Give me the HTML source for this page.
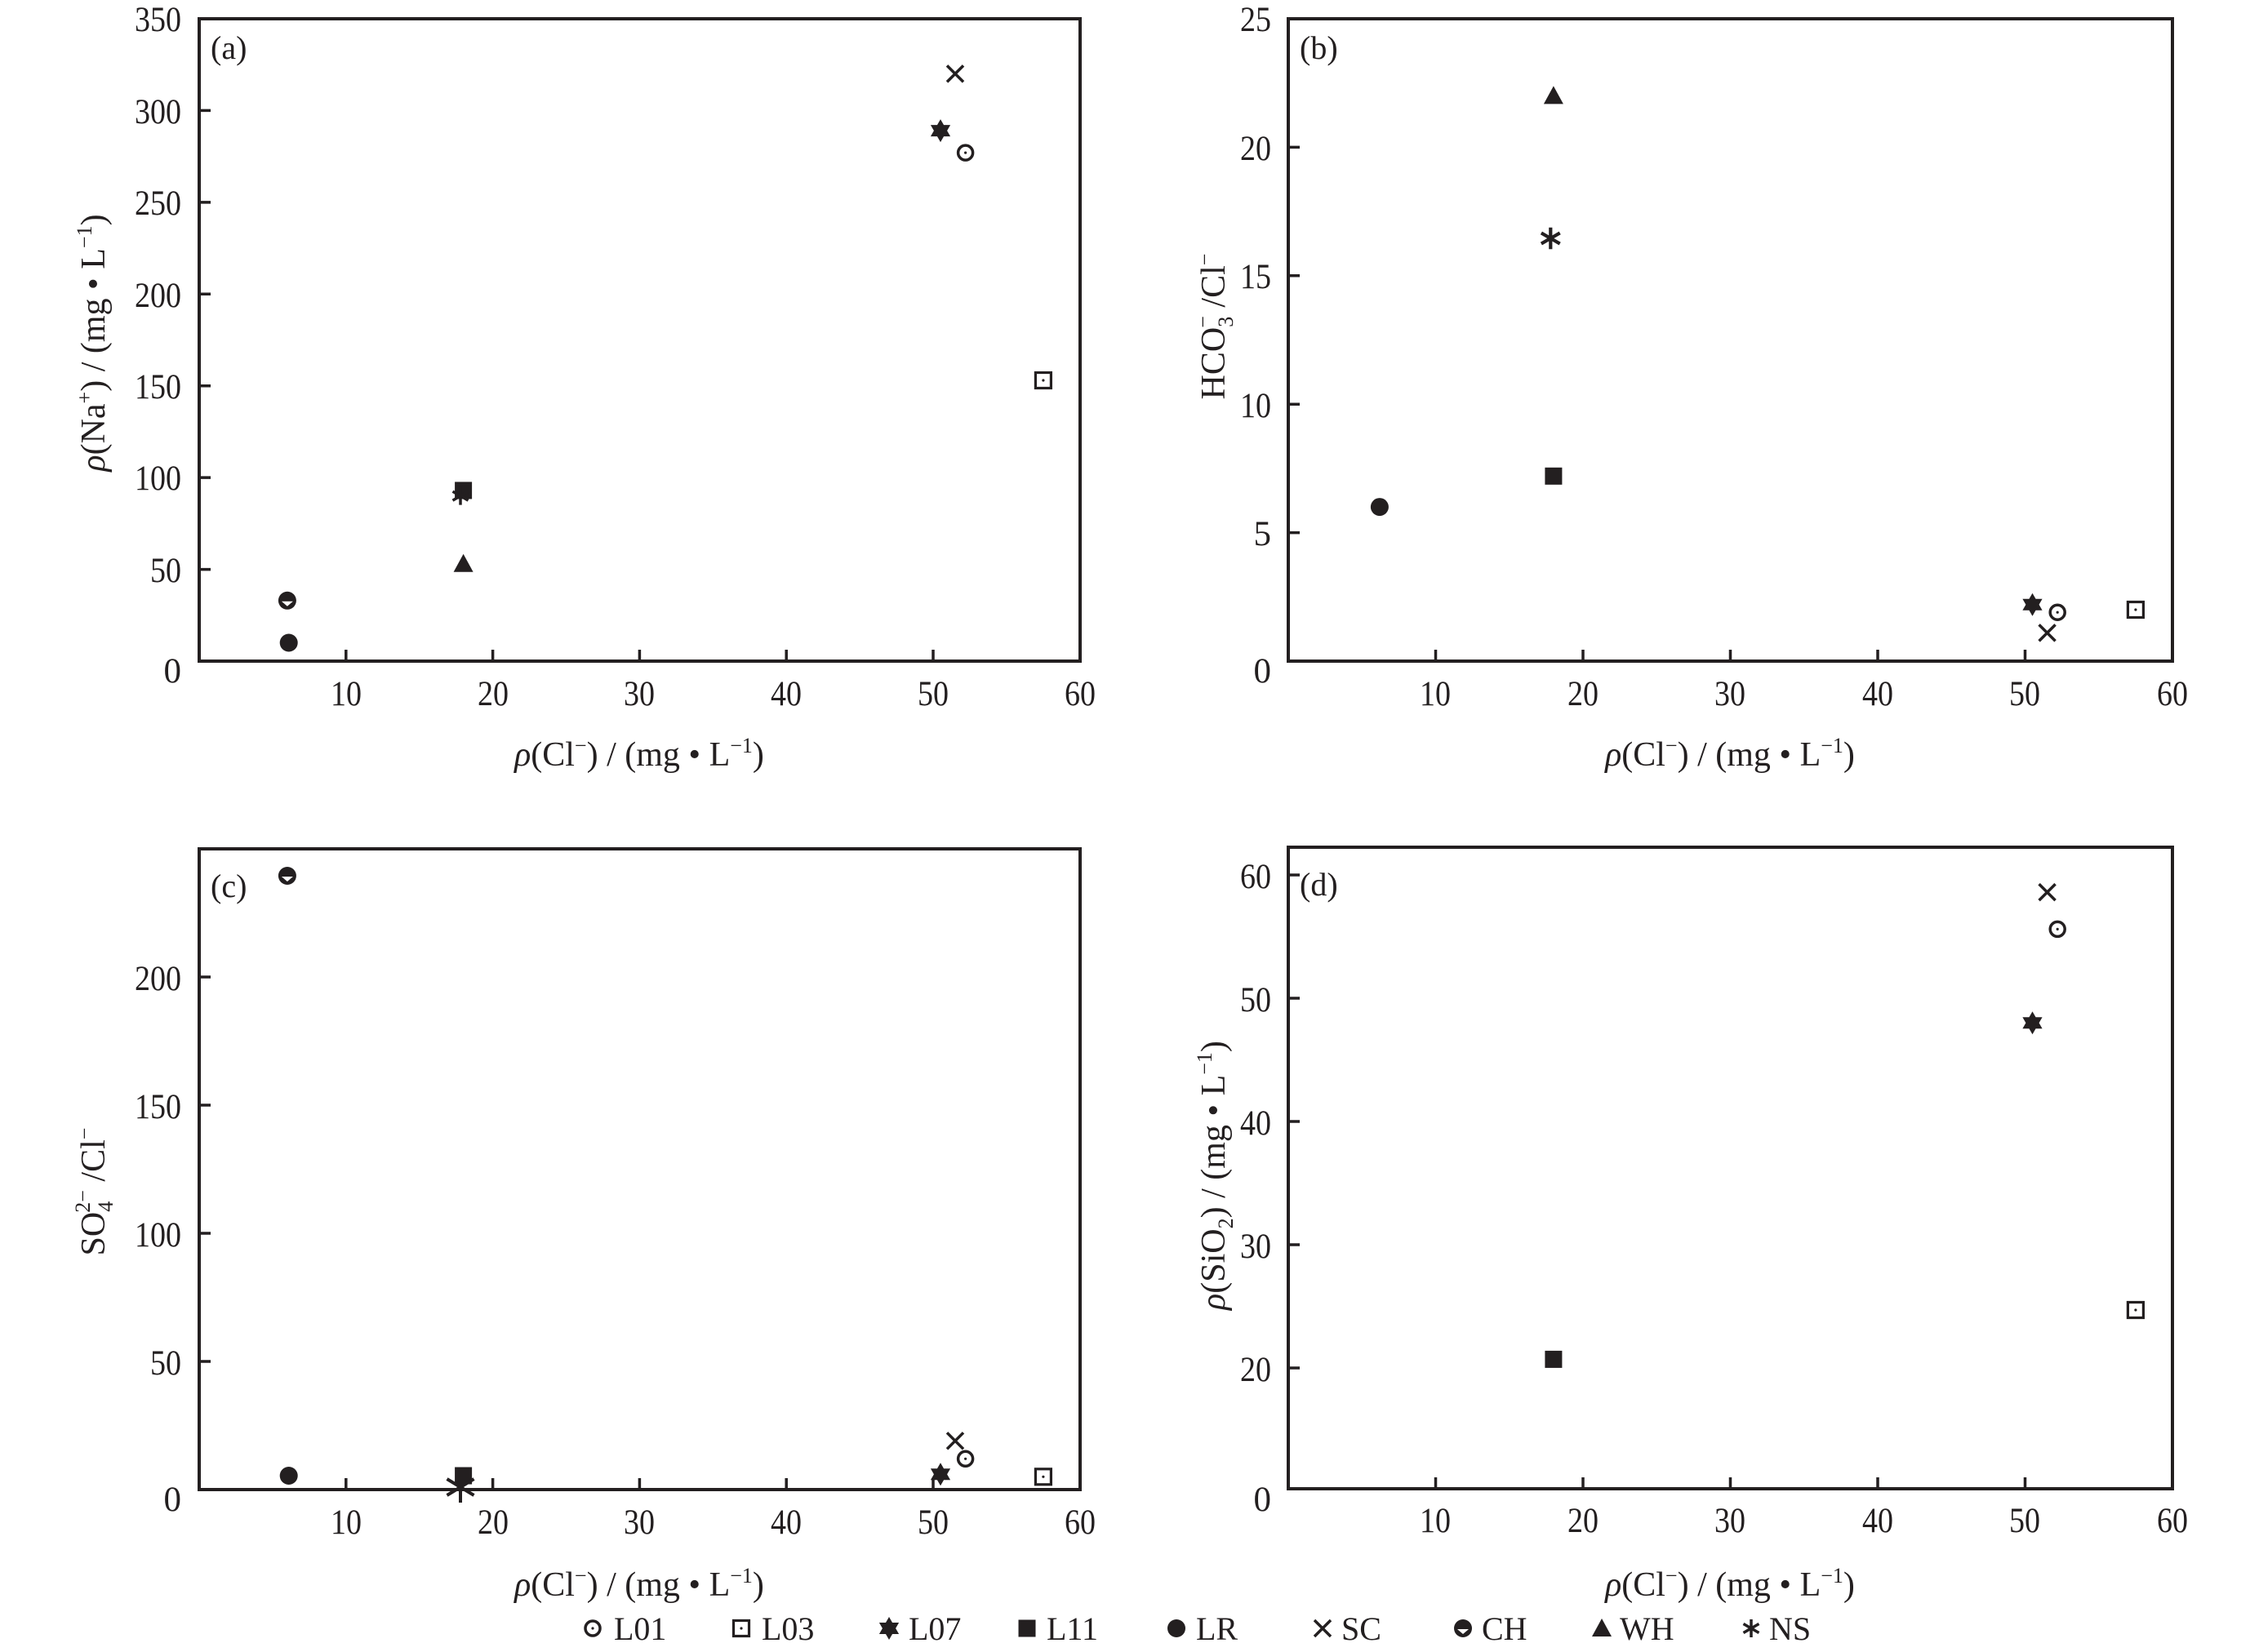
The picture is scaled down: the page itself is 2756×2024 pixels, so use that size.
<!DOCTYPE html>
<html><head><meta charset="utf-8"><style>
html,body{margin:0;padding:0;background:#fff}
svg{display:block}
text{font-family:"Liberation Serif","Noto Serif CJK SC",serif;fill:#231f20}
</style></head><body>
<svg width="2756" height="2024" viewBox="0 0 2756 2024" xmlns="http://www.w3.org/2000/svg">
<defs>
<g id="mo"><circle r="9" fill="none" stroke="#231f20" stroke-width="3.5"/><circle r="1.6" fill="#231f20"/></g>
<g id="msq"><rect x="-9.5" y="-9.5" width="19" height="19" fill="none" stroke="#231f20" stroke-width="3.2"/><circle r="1.6" fill="#231f20"/></g>
<g id="mstar"><polygon points="0,-14 4.04,-7 12.1,-7 8.08,0 12.1,7 4.04,7 0,14 -4.04,7 -12.1,7 -8.08,0 -12.1,-7 -4.04,-7" fill="#231f20"/></g>
<g id="mfsq"><rect x="-10.5" y="-10.5" width="21" height="21" fill="#231f20"/></g>
<g id="mdot"><circle r="11" fill="#231f20"/></g>
<g id="mx"><path d="M-10,-10L10,10M10,-10L-10,10" stroke="#231f20" stroke-width="3.5"/></g>
<g id="mch"><circle r="11" fill="#231f20"/><polygon points="-7,1 7,1 0,7" fill="#fff"/></g>
<g id="mtri"><polygon points="0,-12 12,10 -12,10" fill="#231f20"/></g>
<g id="mns"><path d="M0,-11V11M-9.5,-5.5L9.5,5.5M9.5,-5.5L-9.5,5.5" stroke="#231f20" stroke-width="3.5"/></g>
</defs>

<g stroke="#231f20" stroke-width="4" fill="none">
<rect x="244" y="23" width="1079" height="787"/>
<rect x="1578" y="23" width="1083" height="787"/>
<rect x="244" y="1040" width="1079" height="785"/>
<rect x="1578" y="1038" width="1083" height="786"/>
</g>
<g stroke="#231f20" stroke-width="3.5">
<path d="M423.8,810v-14M603.6,810v-14M783.4,810v-14M963.2,810v-14M1143,810v-14"/>
<path d="M244,697.6h14M244,585.1h14M244,472.7h14M244,360.3h14M244,247.9h14M244,135.4h14"/>
<path d="M1758.5,810v-14M1939,810v-14M2119.5,810v-14M2300,810v-14M2480.5,810v-14"/>
<path d="M1578,652.6h14M1578,495.2h14M1578,337.8h14M1578,180.4h14"/>
<path d="M423.8,1825v-14M603.6,1825v-14M783.4,1825v-14M963.2,1825v-14M1143,1825v-14"/>
<path d="M244,1668h14M244,1511h14M244,1354h14M244,1197h14"/>
<path d="M1758.5,1824v-14M1939,1824v-14M2119.5,1824v-14M2300,1824v-14M2480.5,1824v-14"/>
<path d="M1578,1072h14M1578,1223h14M1578,1374h14M1578,1525h14M1578,1676h14"/>
</g>

<g font-size="43">
<g text-anchor="middle">
<text x="424" y="864" textLength="38" lengthAdjust="spacingAndGlyphs">10</text>
<text x="604" y="864" textLength="38" lengthAdjust="spacingAndGlyphs">20</text>
<text x="783" y="864" textLength="38" lengthAdjust="spacingAndGlyphs">30</text>
<text x="963" y="864" textLength="38" lengthAdjust="spacingAndGlyphs">40</text>
<text x="1143" y="864" textLength="38" lengthAdjust="spacingAndGlyphs">50</text>
<text x="1323" y="864" textLength="38" lengthAdjust="spacingAndGlyphs">60</text>
</g>
<g text-anchor="end">
<text x="222" y="836">0</text>
<text x="222" y="713" textLength="38" lengthAdjust="spacingAndGlyphs">50</text>
<text x="222" y="600" textLength="57" lengthAdjust="spacingAndGlyphs">100</text>
<text x="222" y="488" textLength="57" lengthAdjust="spacingAndGlyphs">150</text>
<text x="222" y="376" textLength="57" lengthAdjust="spacingAndGlyphs">200</text>
<text x="222" y="263" textLength="57" lengthAdjust="spacingAndGlyphs">250</text>
<text x="222" y="151" textLength="57" lengthAdjust="spacingAndGlyphs">300</text>
<text x="222" y="38" textLength="57" lengthAdjust="spacingAndGlyphs">350</text>
</g>
<g text-anchor="middle">
<text x="1758" y="864" textLength="38" lengthAdjust="spacingAndGlyphs">10</text>
<text x="1939" y="864" textLength="38" lengthAdjust="spacingAndGlyphs">20</text>
<text x="2119" y="864" textLength="38" lengthAdjust="spacingAndGlyphs">30</text>
<text x="2300" y="864" textLength="38" lengthAdjust="spacingAndGlyphs">40</text>
<text x="2480" y="864" textLength="38" lengthAdjust="spacingAndGlyphs">50</text>
<text x="2661" y="864" textLength="38" lengthAdjust="spacingAndGlyphs">60</text>
</g>
<g text-anchor="end">
<text x="1557" y="836">0</text>
<text x="1557" y="668">5</text>
<text x="1557" y="511" textLength="38" lengthAdjust="spacingAndGlyphs">10</text>
<text x="1557" y="353" textLength="38" lengthAdjust="spacingAndGlyphs">15</text>
<text x="1557" y="196" textLength="38" lengthAdjust="spacingAndGlyphs">20</text>
<text x="1557" y="38" textLength="38" lengthAdjust="spacingAndGlyphs">25</text>
</g>
<g text-anchor="middle">
<text x="424" y="1879" textLength="38" lengthAdjust="spacingAndGlyphs">10</text>
<text x="604" y="1879" textLength="38" lengthAdjust="spacingAndGlyphs">20</text>
<text x="783" y="1879" textLength="38" lengthAdjust="spacingAndGlyphs">30</text>
<text x="963" y="1879" textLength="38" lengthAdjust="spacingAndGlyphs">40</text>
<text x="1143" y="1879" textLength="38" lengthAdjust="spacingAndGlyphs">50</text>
<text x="1323" y="1879" textLength="38" lengthAdjust="spacingAndGlyphs">60</text>
</g>
<g text-anchor="end">
<text x="222" y="1851">0</text>
<text x="222" y="1684" textLength="38" lengthAdjust="spacingAndGlyphs">50</text>
<text x="222" y="1527" textLength="57" lengthAdjust="spacingAndGlyphs">100</text>
<text x="222" y="1370" textLength="57" lengthAdjust="spacingAndGlyphs">150</text>
<text x="222" y="1213" textLength="57" lengthAdjust="spacingAndGlyphs">200</text>
</g>
<g text-anchor="middle">
<text x="1758" y="1877" textLength="38" lengthAdjust="spacingAndGlyphs">10</text>
<text x="1939" y="1877" textLength="38" lengthAdjust="spacingAndGlyphs">20</text>
<text x="2119" y="1877" textLength="38" lengthAdjust="spacingAndGlyphs">30</text>
<text x="2300" y="1877" textLength="38" lengthAdjust="spacingAndGlyphs">40</text>
<text x="2480" y="1877" textLength="38" lengthAdjust="spacingAndGlyphs">50</text>
<text x="2661" y="1877" textLength="38" lengthAdjust="spacingAndGlyphs">60</text>
</g>
<g text-anchor="end">
<text x="1557" y="1851">0</text>
<text x="1557" y="1692" textLength="38" lengthAdjust="spacingAndGlyphs">20</text>
<text x="1557" y="1541" textLength="38" lengthAdjust="spacingAndGlyphs">30</text>
<text x="1557" y="1390" textLength="38" lengthAdjust="spacingAndGlyphs">40</text>
<text x="1557" y="1239" textLength="38" lengthAdjust="spacingAndGlyphs">50</text>
<text x="1557" y="1088" textLength="38" lengthAdjust="spacingAndGlyphs">60</text>
</g>
</g>

<g font-size="40">
<text x="258" y="72">(a)</text>
<text x="1592" y="72">(b)</text>
<text x="258" y="1099">(c)</text>
<text x="1592" y="1097">(d)</text>
</g>

<g font-size="42" text-anchor="middle">
<text x="783" y="938"><tspan font-style="italic">ρ</tspan>(Cl<tspan font-size="26" dy="-16">−</tspan><tspan dy="16">) / (mg • L</tspan><tspan font-size="26" dy="-16">−1</tspan><tspan dy="16">)</tspan></text>
<text x="2119" y="938"><tspan font-style="italic">ρ</tspan>(Cl<tspan font-size="26" dy="-16">−</tspan><tspan dy="16">) / (mg • L</tspan><tspan font-size="26" dy="-16">−1</tspan><tspan dy="16">)</tspan></text>
<text x="783" y="1955"><tspan font-style="italic">ρ</tspan>(Cl<tspan font-size="26" dy="-16">−</tspan><tspan dy="16">) / (mg • L</tspan><tspan font-size="26" dy="-16">−1</tspan><tspan dy="16">)</tspan></text>
<text x="2119" y="1955"><tspan font-style="italic">ρ</tspan>(Cl<tspan font-size="26" dy="-16">−</tspan><tspan dy="16">) / (mg • L</tspan><tspan font-size="26" dy="-16">−1</tspan><tspan dy="16">)</tspan></text>
<text transform="translate(128,420) rotate(-90)"><tspan font-style="italic">ρ</tspan>(Na<tspan font-size="26" dy="-16">+</tspan><tspan dy="16">) / (mg • L</tspan><tspan font-size="26" dy="-16">−1</tspan><tspan dy="16">)</tspan></text>
<text transform="translate(1500,400) rotate(-90)">HCO<tspan font-size="26" dy="10">3</tspan><tspan font-size="26" dx="-14" dy="-28">−</tspan><tspan dy="18"> /Cl</tspan><tspan font-size="26" dy="-16">−</tspan></text>
<text transform="translate(128,1460) rotate(-90)">SO<tspan font-size="26" dy="10">4</tspan><tspan font-size="26" dx="-14" dy="-28">2−</tspan><tspan dy="18"> /Cl</tspan><tspan font-size="26" dy="-16">−</tspan></text>
<text transform="translate(1500,1440) rotate(-90)"><tspan font-style="italic">ρ</tspan>(SiO<tspan font-size="26" dy="10">2</tspan><tspan dy="-10">) / (mg • L</tspan><tspan font-size="26" dy="-16">−1</tspan><tspan dy="16">)</tspan></text>
</g>

<!-- (a) -->
<use href="#mch" x="351.9" y="735.8"/>
<use href="#mdot" x="353.7" y="787.5"/>
<use href="#mfsq" x="567.6" y="600.9"/>
<use href="#mns" x="564" y="607.6"/>
<use href="#mtri" x="567.6" y="690.8"/>
<use href="#mstar" x="1152" y="160.1"/>
<use href="#mx" x="1170" y="90.4"/>
<use href="#mo" x="1182.6" y="187.1"/>
<use href="#msq" x="1277.9" y="466"/>
<!-- (b) -->
<use href="#mdot" x="1689.9" y="621.1"/>
<use href="#mfsq" x="1902.9" y="583.3"/>
<use href="#mns" x="1899.3" y="292" transform="translate(1899.3,292) scale(1.2) translate(-1899.3,-292)"/>
<use href="#mtri" x="1902.9" y="117.4"/>
<use href="#mstar" x="2489.5" y="740.7"/>
<use href="#mx" x="2507.6" y="775.4"/>
<use href="#mo" x="2520.2" y="750.2"/>
<use href="#msq" x="2615.9" y="747"/>
<!-- (c) -->
<use href="#mch" x="351.9" y="1073"/>
<use href="#mdot" x="353.7" y="1808"/>
<use href="#mfsq" x="567.6" y="1808"/>
<path d="M564,1803V1841M547.5,1812L580.5,1832M580.5,1812L547.5,1832" stroke="#231f20" stroke-width="4"/>
<use href="#mstar" x="1152" y="1806.2"/>
<use href="#mx" x="1170" y="1765.3"/>
<use href="#mo" x="1182.6" y="1787.3"/>
<use href="#msq" x="1277.9" y="1809.3"/>
<!-- (d) -->
<use href="#mfsq" x="1902.9" y="1665.4"/>
<use href="#mstar" x="2489.5" y="1253.2"/>
<use href="#mx" x="2507.6" y="1093.1"/>
<use href="#mo" x="2520.2" y="1138.4"/>
<use href="#msq" x="2615.9" y="1605"/>

<g font-size="40">
<use href="#mo" x="726" y="1995"/><text x="752" y="2009">L01</text>
<use href="#msq" x="908" y="1995"/><text x="933" y="2009">L03</text>
<use href="#mstar" x="1089" y="1995"/><text x="1113" y="2009">L07</text>
<use href="#mfsq" x="1258" y="1995"/><text x="1282" y="2009">L11</text>
<use href="#mdot" x="1441" y="1995"/><text x="1465" y="2009">LR</text>
<use href="#mx" x="1620" y="1995"/><text x="1643" y="2009">SC</text>
<use href="#mch" x="1792" y="1995"/><text x="1815" y="2009">CH</text>
<use href="#mtri" x="1962" y="1995"/><text x="1984" y="2009">WH</text>
<use href="#mns" x="2145" y="1995"/><text x="2167" y="2009">NS</text>
</g>
</svg>
</body></html>
